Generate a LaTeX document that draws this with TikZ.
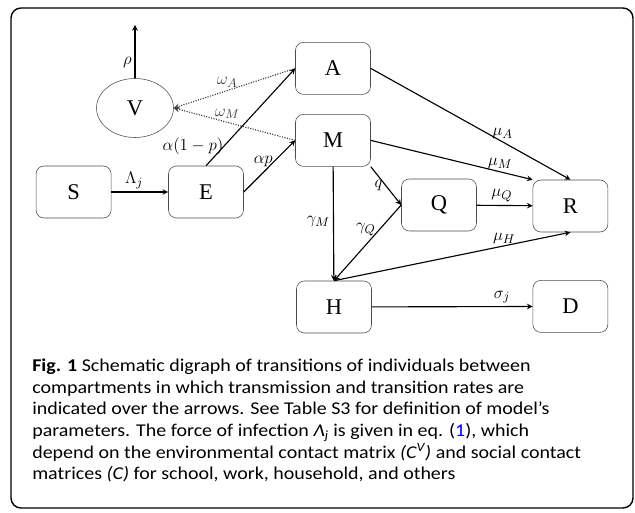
\documentclass[tikz,border=0pt]{standalone}
\usepackage{fontspec}
\setmainfont{Liberation Serif}
\newfontfamily\captionfont[FakeStretch=1.11]{Carlito}
\usetikzlibrary{shapes.geometric}

\begin{document}
\begin{tikzpicture}
	% Define styles
	\tikzstyle{compartment} = [rectangle, rounded corners=0.2cm, minimum width=1.875cm, minimum height=1.3cm, text centered, draw=black!70, font=\fontsize{16}{19}\selectfont]
	\tikzstyle{arrow} = [thick,->,>=stealth]
	\tikzstyle{vaccine} = [thick,densely dotted,black!75,->,>=stealth]
	\tikzstyle{rate} = [font=\fontsize{12.5}{15}\selectfont, inner sep=2pt]

	\useasboundingbox (0,0) rectangle (15.875,-12.825);
	\draw [line width=1pt, rounded corners=0.25cm] (0.275,-0.2) rectangle (15.825,-12.7);

	% Nodes
	\node (S) [compartment] at (1.84,-4.8) {S};
	\node (E) [compartment] at (5.15,-4.8) {E};
	\node (V) [ellipse, draw=black!70, minimum width=1.925cm, minimum height=1.475cm, inner sep=0pt, font=\fontsize{16}{19}\selectfont] at (3.375,-2.7) {V};
	\node (A) [compartment] at (8.325,-1.71) {A};
	\node (M) [compartment] at (8.325,-3.51) {M};
	\node (Q) [compartment] at (10.975,-5.125) {Q};
	\node (R) [compartment] at (14.26,-5.15) {R};
	\node (H) [compartment] at (8.35,-7.675) {H};
	\node (D) [compartment] at (14.26,-7.66) {D};
	\coordinate (out) at (3.375,-0.625);

	% Arrows
	\draw [arrow] (S) -- node (lamj) [rate, pos=0.4, above] {$\Lambda_j$} (E);
	\draw [arrow] (V) -- node (rho) [rate, pos=0.3, left] {$\rho$} (out);
	\draw [arrow] (E.north) -- node (alpha1p) [rate, pos=0.2, left, inner sep=0pt] {$\alpha(1-p)$} (A.west);
	\draw [arrow] (E.east) -- node (alphap) [rate, pos=0.6, left, inner sep=1pt] {$\alpha p$} (M.west);
	\draw [vaccine] (A.west) -- node (omegaA) [rate, pos=0.56, above] {$\omega_A$} (V.east);
	\draw [vaccine] (M.west) -- node (omegaM) [rate, pos=0.56, above] {$\omega_M$} (V.east);
	\draw [arrow] (A.east) -- node (muA) [rate, pos=0.66, above] {$\mu_A$} (R.north);
	\draw [arrow] (M.east) -- node (muM) [rate, pos=0.8, above] {$\mu_M$} (R.north west);
	\draw [arrow] (M.south east) -- node (qrate) [rate, pos=0.5, left] {$q$} (Q.west);
	\draw [arrow] (Q) -- node (muQ) [rate, pos=0.45, above] {$\mu_Q$} (R);
	\draw [arrow] (M) -- node (gammaM) [rate, pos=0.48, left] {$\gamma_M$} (H);
	\draw [arrow] (Q.west) -- node (gammaQ) [rate, pos=0.33, left] {$\gamma_Q$} (H.north);
	\draw [arrow] (H.north) -- node (muH) [rate, pos=0.72, above, inner sep=1pt] {$\mu_H$} (R.south);
	\draw [arrow] (H) -- node (sigmaj) [rate, pos=0.81, above] {$\sigma_j$} (D);

	% Caption
	\node (caption) [anchor=north west, inner sep=0pt, align=left, font=\captionfont\fontsize{12.8}{15.36}\selectfont] at (0.8,-8.97) {{\bfseries Fig. 1} Schematic digraph of transitions of individuals between\\
compartments in which transmission and transition rates are\\
indicated over the arrows. See Table S3 for definition of model’s\\
parameters. The force of infection {\itshape Λ\textsubscript{j}} is given in eq. (\textcolor{blue}{1}), which\\
depend on the environmental contact matrix {\itshape (C\textsuperscript{V})} and social contact\\
matrices {\itshape (C)} for school, work, household, and others};
\end{tikzpicture}
\end{document}
